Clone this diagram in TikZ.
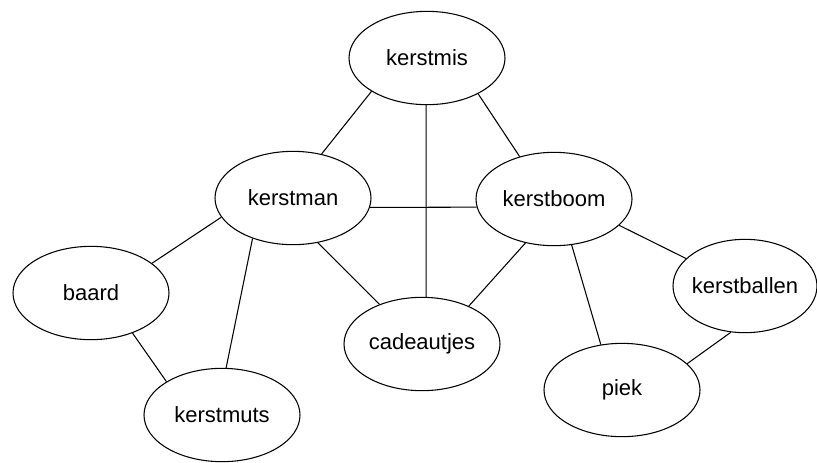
\documentclass[tikz,border=0pt]{standalone}
\usepackage{fontspec}
\setmainfont{Liberation Sans}
\usetikzlibrary{shapes.geometric}

\begin{document}
\begin{tikzpicture}[x = 0.75pt, y = -0.75pt, line width = 0.8pt,
                    word/.style = {ellipse, draw, inner xsep = -4pt, inner ysep = 0pt,
                                   minimum width = 117pt, minimum height = 70pt,
                                   font = \fontsize{16.5}{20}\selectfont}]
      \useasboundingbox (0, 0) rectangle (817, 462);
      \node [word] (kerstmis) at (427, 58){kerstmis};
      \node [word] (kerstman) at (293, 198){kerstman};
      \node [word] (kerstboom) at (554, 199){kerstboom};
      \node [word] (baard) at (91, 293){baard};
      \node [word] (cadeautjes) at (422, 344){cadeautjes};
      \node [word] (kerstmuts) at (222, 415){kerstmuts};
      \node [word, minimum width = 108pt] (kerstballen) at (745, 286){kerstballen};
      \node [word] (piek) at (622, 390){piek};
      \draw (kerstmis.211) -- (kerstman.57);
      \draw (kerstmis.269) -- (cadeautjes.85);
      \draw (kerstmis.325) -- (kerstboom.129);
      \draw (kerstman.353) -- (kerstboom.186);
      \draw (kerstman.195) -- (baard.26);
      \draw (kerstman.225) -- (kerstmuts.85);
      \draw (kerstman.299) -- (cadeautjes.137);
      \draw (kerstboom.237) -- (cadeautjes.39);
      \draw (kerstboom.291) -- (piek.115);
      \draw (kerstboom.338) -- (kerstballen.155);
      \draw (kerstballen.253) -- (piek.22);
      \draw (baard.316) -- (kerstmuts.149);

      \end{tikzpicture}
\end{document}
